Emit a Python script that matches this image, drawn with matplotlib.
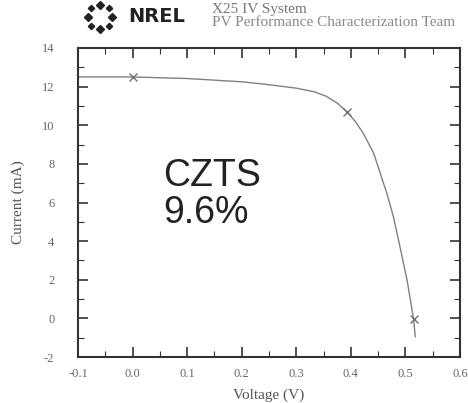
import numpy as np
import matplotlib
matplotlib.use("Agg")
import matplotlib.pyplot as plt
from matplotlib.ticker import MultipleLocator
from matplotlib.lines import Line2D

# IV curve data
voltage = [-0.1, 0.0, 0.1, 0.2, 0.25, 0.30, 0.332, 0.355, 0.375, 0.393, 0.408, 0.423, 0.442,
           0.454, 0.466, 0.478, 0.490, 0.503, 0.515, 0.518]
current = [12.5, 12.5, 12.42, 12.25, 12.1, 11.92, 11.74, 11.5, 11.15, 10.69, 10.2, 9.57, 8.54,
           7.5, 6.47, 5.26, 3.71, 1.98, -0.05, -0.95]
mark_v = [0.0, 0.393, 0.515]
mark_i = [12.5, 10.69, -0.05]
xticks = [-0.1, 0.0, 0.1, 0.2, 0.3, 0.4, 0.5, 0.6]
xticklabels = ["-0.1", "0.0", "0.1", "0.2", "0.3", "0.4", "0.5", "0.6"]
yticks = [-2, 0, 2, 4, 6, 8, 10, 12, 14]
yticklabels = ["-2", "0", "2", "4", "6", "8", "10", "12", "14"]

fig = plt.figure(figsize=(4.68, 4.03), dpi=100)
ax = fig.add_axes([78 / 468, 1 - 357 / 403, (460 - 78) / 468, (357 - 48) / 403])

ax.plot(voltage, current, color="#808080", lw=1.0)
ax.plot(mark_v, mark_i, linestyle="none", marker="x", ms=6, mew=1.0, color="#707070")

ax.set_xlim(-0.1, 0.6)
ax.set_ylim(-2, 14)
ax.set_xticks(xticks)
ax.set_xticklabels(xticklabels, family="Liberation Serif", fontsize=9)
ax.set_yticks(yticks)
ax.set_yticklabels(yticklabels, family="Liberation Serif", fontsize=9)
ax.xaxis.set_minor_locator(MultipleLocator(0.05))
ax.yaxis.set_minor_locator(MultipleLocator(1))
ax.tick_params(which="both", direction="in", top=True, right=True, colors="#333333",
               labelcolor="#666666")
ax.tick_params(which="major", length=7, width=1.2)
ax.tick_params(which="minor", length=4, width=0.8)
ax.tick_params(axis="y", which="both", pad=17)
ax.tick_params(axis="x", which="both", pad=8)
for s in ax.spines.values():
    s.set_linewidth(1.5)
    s.set_color("#333333")

ax.set_xlabel("Voltage (V)", family="Liberation Serif", fontsize=11, color="#555555", labelpad=6)
ax.set_ylabel("Current (mA)", family="Liberation Serif", fontsize=11, color="#555555", labelpad=12)

fig.text(163 / 468, 1 - 158 / 403, "CZTS\n9.6%", fontsize=27,
         family="Liberation Sans", color="#222222", va="top", ha="left", linespacing=1.05)

# Header: NREL logo and title
cx, cy, r = 100 / 468, 1 - 17 / 403, 0.028
for k in range(8):
    a = np.pi / 2 + k * np.pi / 4
    fig.add_artist(Line2D([cx + r * np.cos(a) * 0.93], [cy + r * np.sin(a) * 1.08], marker="D",
                          ms=4.5 if k % 2 == 0 else 3.2, color="#222222", transform=fig.transFigure))
fig.text(128 / 468, 1 - 17 / 403, "NREL", fontsize=14, fontweight="bold", family="DejaVu Sans",
         color="#222222", va="center", ha="left")
fig.text(212 / 468, 1 - 10 / 403, "X25 IV System", fontsize=11, family="Liberation Serif",
         color="#777777", va="center", ha="left")
fig.text(212 / 468, 1 - 23 / 403, "PV Performance Characterization Team", fontsize=11,
         family="Liberation Serif", color="#888888", va="center", ha="left")

fig.savefig("out.png", dpi=100)
